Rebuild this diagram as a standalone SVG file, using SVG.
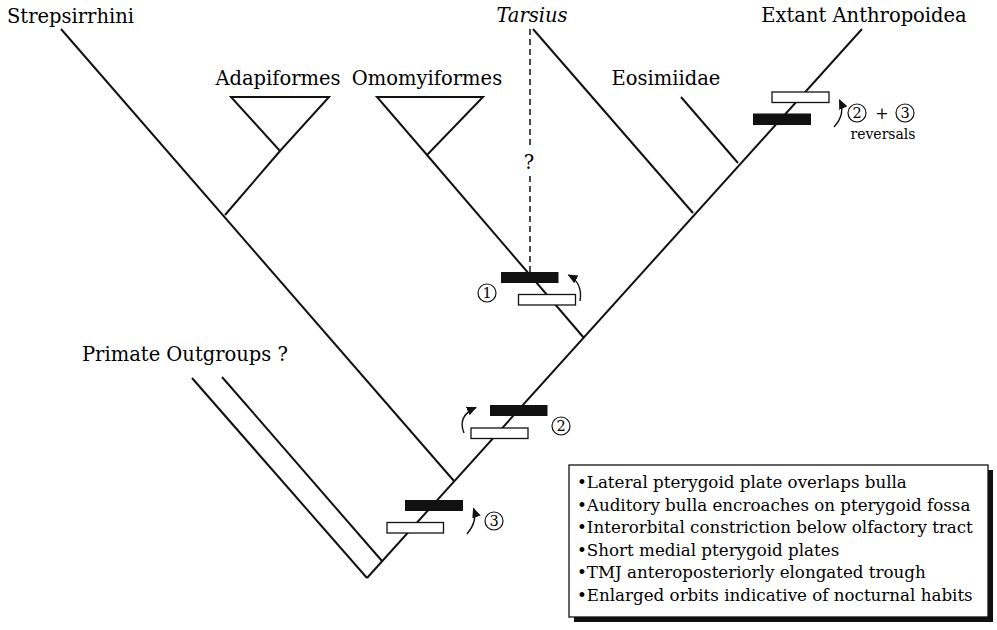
<svg xmlns="http://www.w3.org/2000/svg" width="997" height="630" viewBox="0 0 997 630">
<defs>
<style>
.t{font-family:"DejaVu Serif","Liberation Serif",serif;fill:#000;}
.lab{font-size:19.5px;}
.leg{font-size:16.7px;}
.num{font-size:14.5px;text-anchor:middle;}
.br{stroke:#111;stroke-width:2;fill:none;stroke-linecap:butt;}
.dash{stroke:#111;stroke-width:1.5;fill:none;stroke-dasharray:6,4;}
.blk{fill:#111;}
.wht{fill:#fff;stroke:#111;stroke-width:1.3;}
.arr{stroke:#111;stroke-width:1.4;fill:none;marker-end:url(#ah);}
.circ{fill:none;stroke:#111;stroke-width:1.2;}
</style>
<marker id="ah" markerUnits="userSpaceOnUse" markerWidth="12" markerHeight="10" refX="9" refY="4.5" orient="auto">
<path d="M0,0 L10,4.5 L0,9 z" fill="#111"/>
</marker>
</defs>
<rect width="997" height="630" fill="#fff"/>

<g id="connectors">
<path class="br" d="M61,29 L454,481"/>
<path class="br" d="M367,578 L862,29"/>
<path class="br" d="M192,378 L367,578"/>
<path class="br" d="M222,377 L382,561"/>
<path class="br" d="M225,215 L280,151"/>
<path class="br" d="M427,155 L584,338"/>
<path class="br" d="M533,29 L693,213"/>
<path class="br" d="M681,97 L738,163"/>
<path class="dash" d="M530,29 L530,146 M530,176 L530,272"/>
</g>

<g id="adapiformes">
<path class="br" d="M231,97 L329,97 L280,151 Z"/>
<text class="t lab" x="278" y="85" text-anchor="middle">Adapiformes</text>
</g>
<g id="omomyiformes">
<path class="br" d="M377,97 L483,97 L427,155 Z"/>
<text class="t lab" x="427" y="85" text-anchor="middle">Omomyiformes</text>
</g>
<g id="strepsirrhini">
<text class="t lab" x="7" y="23">Strepsirrhini</text>
</g>
<g id="tarsius">
<text class="t lab" x="532" y="22" text-anchor="middle" font-style="italic">Tarsius</text>
<text class="t lab" x="529" y="169" text-anchor="middle">?</text>
</g>
<g id="anthropoidea">
<text class="t lab" x="864" y="22" text-anchor="middle">Extant Anthropoidea</text>
</g>
<g id="eosimiidae">
<text class="t lab" x="666" y="85" text-anchor="middle">Eosimiidae</text>
</g>
<g id="outgroups">
<text class="t lab" x="82" y="361">Primate Outgroups ?</text>
</g>

<g id="char-anthropoidea">
<rect class="wht" x="772" y="92" width="57" height="10.5"/>
<rect class="blk" x="753" y="113.5" width="58" height="11.5"/>
<path class="arr" d="M834,127 Q846,114 839.5,100"/>
<circle class="circ" cx="857" cy="113" r="9"/>
<text class="t num" x="857" y="118">2</text>
<text class="t" x="882" y="118.5" font-size="16" text-anchor="middle">+</text>
<circle class="circ" cx="905" cy="113" r="9"/>
<text class="t num" x="905" y="118">3</text>
<text class="t" x="883" y="139" font-size="14" text-anchor="middle">reversals</text>
</g>

<g id="char-1">
<rect class="blk" x="501" y="272" width="57.5" height="11"/>
<rect class="wht" x="518.5" y="294.5" width="57" height="10.5"/>
<path class="arr" d="M580,301 Q583,283 568.5,275"/>
<circle class="circ" cx="487" cy="293" r="9"/>
<text class="t num" x="487" y="298">1</text>
</g>

<g id="char-2">
<rect class="blk" x="490" y="405" width="57.5" height="11"/>
<rect class="wht" x="471" y="428" width="57" height="10.5"/>
<path class="arr" d="M464,433 Q457,416 476,407.5"/>
<circle class="circ" cx="561" cy="426" r="9"/>
<text class="t num" x="561" y="431">2</text>
</g>

<g id="char-3">
<rect class="blk" x="405" y="500" width="58" height="11"/>
<rect class="wht" x="387" y="522.5" width="56.5" height="10.5"/>
<path class="arr" d="M467,534 Q478,521 473.5,508.5"/>
<circle class="circ" cx="494" cy="521" r="9"/>
<text class="t num" x="494" y="526">3</text>
</g>

<g id="legend">
<rect x="574" y="470" width="419" height="152" fill="#111"/>
<rect x="569" y="465" width="419" height="152" fill="#fff" stroke="#111" stroke-width="1.3"/>
<text class="t leg" x="577" y="488">•Lateral pterygoid plate overlaps bulla</text>
<text class="t leg" x="577" y="510.5">•Auditory bulla encroaches on pterygoid fossa</text>
<text class="t leg" x="577" y="533">•Interorbital constriction below olfactory tract</text>
<text class="t leg" x="577" y="555.5">•Short medial pterygoid plates</text>
<text class="t leg" x="577" y="578">•TMJ anteroposteriorly elongated trough</text>
<text class="t leg" x="577" y="600.5">•Enlarged orbits indicative of nocturnal habits</text>
</g>
</svg>
